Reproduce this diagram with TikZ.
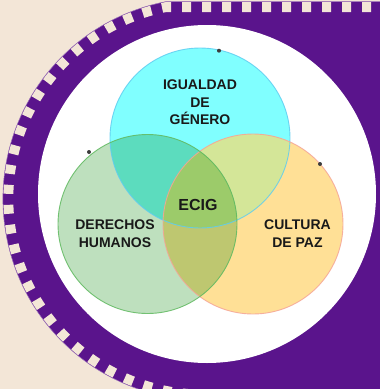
\documentclass[tikz,border=0pt]{standalone}
\usepackage{fontspec}
\setmainfont{Liberation Sans}
\definecolor{bg}{RGB}{243,230,215}
\definecolor{purp}{RGB}{90,20,140}
\definecolor{cyanf}{RGB}{128,255,255}
\definecolor{cyanl}{RGB}{95,205,240}
\definecolor{yelf}{RGB}{255,224,150}
\definecolor{yell}{RGB}{245,165,150}
\definecolor{grnf}{RGB}{190,224,190}
\definecolor{grnl}{RGB}{95,185,95}
\definecolor{cyx}{RGB}{212,230,152}
\definecolor{cgx}{RGB}{92,220,190}
\definecolor{gyx}{RGB}{190,199,112}
\definecolor{cgyx}{RGB}{156,203,106}
\definecolor{dotc}{RGB}{60,60,60}
\tikzset{
  lbl/.style={font=\bfseries\fontsize{14}{17.5}\selectfont, align=center, text=black!90, inner sep=0pt},
  dotnode/.style={circle, fill=dotc, inner sep=0pt, minimum size=4pt},
  ring/.style={line width=0.9pt, draw opacity=0.85}
}
\begin{document}
\begin{tikzpicture}[x=1pt,y=1pt]
\useasboundingbox (0,0) rectangle (380,-389);
\clip (0,0) rectangle (380,-389);
\fill[bg] (0,0) rectangle (380,-389);
% purple band with teeth
\fill[purp] (431,-1.7) -- (165.6,-1.7) arc[start angle=101, end angle=270, radius=201] -- (431,-400) -- cycle;
\draw[bg, line width=10pt, dash pattern=on 9pt off 11pt] (431,-7) -- (166.0,-7) arc[start angle=101.2, end angle=270, radius=195.7] -- (431,-394.7);
\draw[purp!60, line width=0.5pt] (431,-1.7) -- (165.6,-1.7) arc[start angle=101, end angle=270, radius=201];
% white disc
\fill[white] (207,-194) circle[radius=169];
% venn centres
\coordinate (cC) at (200,-138);
\coordinate (cG) at (147.5,-224);
\coordinate (cY) at (253,-224);
% fills
\fill[cyanf] (cC) circle[radius=90];
\fill[yelf] (cY) circle[radius=90];
\begin{scope}
  \clip (cC) circle[radius=90];
  \fill[cyx] (cY) circle[radius=90];
\end{scope}
\fill[grnf] (cG) circle[radius=89.5];
\begin{scope}
  \clip (cG) circle[radius=89.5];
  \fill[cgx] (cC) circle[radius=90];
  \fill[gyx] (cY) circle[radius=90];
  \clip (cC) circle[radius=90];
  \fill[cgyx] (cY) circle[radius=90];
\end{scope}
% outlines
\draw[ring, cyanl] (cC) circle[radius=90];
\draw[ring, yell] (cY) circle[radius=90];
\draw[ring, grnl] (cG) circle[radius=89.5];
% dots
\node[dotnode] (d1) at (219,-50.7) {};
\node[dotnode] (d2) at (89,-152) {};
\node[dotnode] (d3) at (320,-164) {};
% labels
\node[lbl] (ig) at (200,-102.5) {IGUALDAD\\DE\\GÉNERO};
\node[lbl] (dh) at (115,-233.5) {DERECHOS\\HUMANOS};
\node[lbl] (cp) at (297.5,-233.5) {CULTURA\\DE PAZ};
\node[lbl, font=\bfseries\fontsize{16}{19}\selectfont] (ecig) at (198,-205) {ECIG};
\end{tikzpicture}
\end{document}
